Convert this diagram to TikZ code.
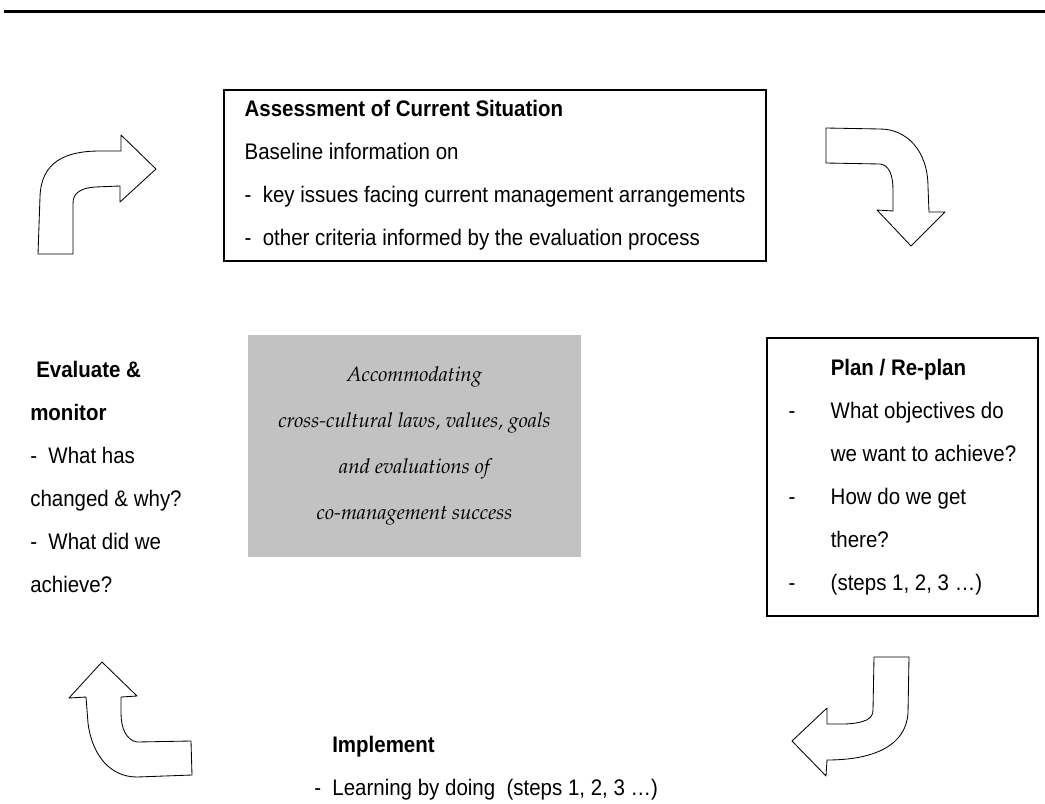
\documentclass[tikz,border=0pt]{standalone}
\usepackage[T1,TU]{fontenc}
\usepackage{fontspec}
\setmainfont{Liberation Sans}[FakeStretch=0.91]
\newcommand{\antiqua}{\fontencoding{T1}\fontfamily{ppl}\fontseries{m}\fontshape{it}\selectfont}
\usetikzlibrary{positioning}
\definecolor{coregrey}{RGB}{194,194,194}

\begin{document}
\begin{tikzpicture}[x=0.025cm,y=-0.025cm,
  box/.style={draw, line width=1.1pt, align=left, font=\fontsize{16}{30.6}\selectfont},
  plain/.style={inner sep=0pt, align=left, font=\fontsize{16}{30.6}\selectfont},
  bent/.style={draw, line width=0.6pt, line join=round, fill=white}]

\useasboundingbox (0,0) rectangle (1045,803);

\draw[line width=2pt] (4,11.5) -- (1045,11.5);

\node[box, minimum width=13.55cm, minimum height=4.275cm] (assess) at (495,175.5) {\textbf{Assessment of Current Situation}\\ Baseline information on\\ -\ \ key issues facing current management arrangements\\ -\ \ other criteria informed by the evaluation process};

\node[fill=coregrey, minimum width=8.325cm, minimum height=5.525cm, align=center, font=\antiqua\fontsize{14.6}{32.7}\selectfont] (core) at (414.5,446) {Accommodating\\ cross-cultural laws, values, goals\\ and evaluations of\\ co-management success};

\node[box, minimum width=6.775cm, minimum height=6.95cm] (plan) at (902.5,477) {\hspace*{1.05cm}\textbf{Plan / Re-plan}\\ \makebox[1.05cm][l]{-}What objectives do\\ \hspace*{1.05cm}we want to achieve?\\ \makebox[1.05cm][l]{-}How do we get\\ \hspace*{1.05cm}there?\\ \makebox[1.05cm][l]{-}(steps 1, 2, 3 …)};

\node[plain, anchor=west] (evaluate) at (30,477) {\hspace*{0.15cm}\textbf{Evaluate \&}\\ \textbf{monitor}\\ -\ \ What has\\ changed \& why?\\ -\ \ What did we\\ achieve?};

\node[plain, anchor=west] (implement) at (314,768) {\hspace*{0.45cm}\textbf{Implement}\\ -\ \ Learning by doing\ \ (steps 1, 2, 3 …)};

% bent arrows round the cycle
\draw[bent] (38,254) -- (40,197) .. controls (41,162) and (65,151) .. (100,151) -- (121,151) -- (121,135) -- (156,169) -- (120,202) -- (120,186) -- (95,187) .. controls (81,188) and (73,193) .. (73,203) -- (73,254) -- cycle;
\draw[bent] (826,128) -- (826,163) -- (880,164) .. controls (889,165) and (893,175) .. (893,190) -- (893,211) -- (877,210) -- (911,246) -- (945,212) -- (929,212) -- (928,187) .. controls (928,150) and (906,129) .. (880,129) -- cycle;
\draw[bent] (874,657) -- (909,657) -- (908,713) .. controls (906,745) and (875,760) .. (827,760) -- (826,776) -- (792,741) -- (827,708) -- (827,724) -- (845,724) .. controls (865,723) and (873,719) .. (873,710) -- cycle;
\draw[bent] (102,662) -- (69,698) -- (86,697) -- (88,723) .. controls (92,755) and (110,777) .. (137,777) -- (192,775) -- (191,741) -- (137,742) .. controls (126,740) and (121,728) .. (121,713) -- (121,697) -- (137,696) -- cycle;

\end{tikzpicture}
\end{document}
